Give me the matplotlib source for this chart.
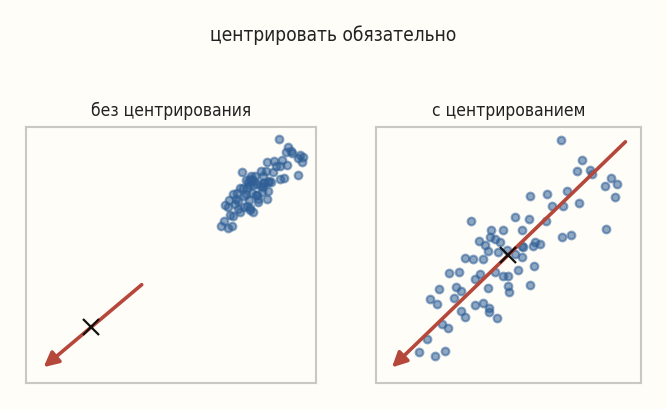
import matplotlib
matplotlib.use("Agg")
import matplotlib.pyplot as plt
import numpy as np

# centered data (as in the right panel)
xs = [1.33, 1.85, 1.73, 2.05, 2.11, 2.58, 2.73, 2.43, 2.68, 0.56, 0.98, 1.48, 1.78, 1.10, 1.38,
      2.45, 1.35, 1.58, 0.18, 0.53, 0.96, -0.93, -0.42, -0.14, 0.36, -0.72, -0.45, -0.34, -0.20,
      -0.59, -0.50, -0.25, -0.02, 0.18, 0.34, 0.68, 0.63, 0.81, 0.37, -1.07, -0.87, -0.62, 0.36,
      0.66, -1.48, -1.23, -0.70, -0.82, -0.33, -0.12, -0.01, 0.25, 0.56, 0.00, 0.01, -1.74, -1.30,
      -1.17, -0.50, -1.95, -1.77, -1.35, -1.19, -1.07, -0.84, -0.62, -0.47, -0.48, -0.27, -1.66,
      -1.50, -2.02, -2.24, -1.82, -1.57]
ys = [2.87, 2.37, 2.09, 2.13, 2.03, 1.92, 1.78, 1.73, 1.44, 1.47, 1.52, 1.59, 1.30, 1.22, 1.22,
      0.65, 0.45, 0.50, 0.94, 0.90, 0.84, 0.84, 0.63, 0.63, 0.63, 0.35, 0.44, 0.39, 0.33,
      0.24, 0.09, 0.07, 0.13, 0.03, 0.22, 0.32, 0.23, 0.27, 0.19, -0.08, -0.10, -0.10, -0.06,
      -0.28, -0.46, -0.43, -0.48, -0.60, -0.42, -0.53, -0.53, -0.38, -0.75, -0.77, -0.93, -0.85, -0.80,
      -0.91, -0.83, -1.11, -1.23, -1.08, -1.40, -1.56, -1.24, -1.19, -1.33, -1.43, -1.58, -1.73,
      -1.83, -2.10, -2.43, -2.53, -2.41]
mean = [10.13, 8.55]   # offset of the raw data

# first principal direction, tail and tip of the arrow
left_tail = [3.09, 2.58]
left_tip = [-2.87, -2.42]
right_tail = [2.94, 2.83]
right_tip = [-2.91, -2.81]

bg = "#fffdf8"
pt_color = "#2f5f96"
arrow_color = "#b5473b"

plt.rcParams["font.family"] = ["DejaVu Sans"]
plt.rcParams["font.stretch"] = "condensed"

fig = plt.figure(figsize=(6.66, 4.10), dpi=100, facecolor=bg)
ax1 = fig.add_axes([26 / 666, 26 / 410, 290 / 666, 256 / 410])
ax2 = fig.add_axes([376 / 666, 26 / 410, 265 / 666, 256 / 410])

x = np.array(xs)
y = np.array(ys)

panels = [
    (ax1, x + mean[0], y + mean[1], left_tail, left_tip, "без центрирования", (-3.94, 13.68), (-3.38, 12.14)),
    (ax2, x, y, right_tail, right_tip, "с центрированием", (-3.31, 3.33), (-3.2, 3.2)),
]
for ax, px, py, tail, tip, title, xl, yl in panels:
    ax.set_facecolor(bg)
    ax.scatter(px, py, s=30, color=pt_color, alpha=0.55, linewidths=1.6, zorder=2)
    ax.annotate("", xy=tip, xytext=tail,
                arrowprops=dict(arrowstyle="-|>", color=arrow_color, lw=2.6,
                                mutation_scale=22, shrinkA=0, shrinkB=0), zorder=3)
    ax.plot([0], [0], marker="x", color="#111111", markersize=12, mew=1.6, zorder=4)
    ax.set_xlim(*xl)
    ax.set_ylim(*yl)
    ax.set_xticks([])
    ax.set_yticks([])
    for sp in ax.spines.values():
        sp.set_color("#c9c9c2")
        sp.set_linewidth(1.5)
    ax.set_title(title, fontsize=12.5, color="#222222", pad=9)

fig.suptitle("центрировать обязательно", fontsize=13.7, color="#222222", y=0.938)
fig.savefig("out.png", dpi=100, facecolor=bg)
